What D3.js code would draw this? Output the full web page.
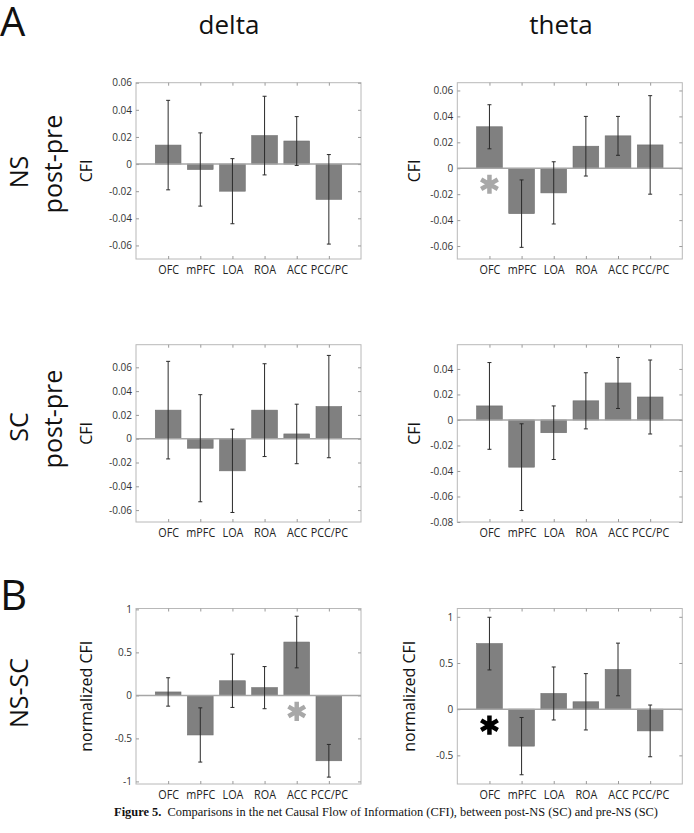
<!DOCTYPE html>
<html>
<head>
<meta charset="utf-8">
<script src="https://cdn.jsdelivr.net/npm/d3@7"></script>
<style>
  body { margin: 0; background: #fff; }
  svg { display: block; }
</style>
</head>
<body>
<div id="chart"></div>
<script>
// Brain regions (x categories)
var regions = ["OFC", "mPFC", "LOA", "ROA", "ACC", "PCC/PC"];

// NS post-pre
var deltaNS    = [0.014, -0.004, -0.020, 0.021, 0.017, -0.026];
var deltaNSErr = [0.033, 0.027, 0.024, 0.029, 0.018, 0.033];
var thetaNS    = [0.032, -0.035, -0.019, 0.017, 0.025, 0.018];
var thetaNSErr = [0.017, 0.026, 0.024, 0.023, 0.015, 0.038];

// SC post-pre
var deltaSC    = [0.024, -0.008, -0.027, 0.024, 0.004, 0.027];
var deltaSCErr = [0.041, 0.045, 0.035, 0.039, 0.025, 0.043];
var thetaSC    = [0.011, -0.037, -0.010, 0.015, 0.029, 0.018];
var thetaSCErr = [0.034, 0.034, 0.021, 0.022, 0.020, 0.029];

// NS-SC (normalized)
var deltaDiff    = [0.04, -0.46, 0.17, 0.09, 0.62, -0.76];
var deltaDiffErr = [0.165, 0.315, 0.31, 0.245, 0.30, 0.19];
var thetaDiff    = [0.71, -0.40, 0.17, 0.08, 0.43, -0.235];
var thetaDiffErr = [0.285, 0.31, 0.287, 0.305, 0.285, 0.28];

// Y tick labels
var ticksCFI    = [-0.06, -0.04, -0.02, 0, 0.02, 0.04, 0.06];
var ticksCFI2   = [-0.08, -0.06, -0.04, -0.02, 0, 0.02, 0.04];
var ticksNorm   = [-1, -0.5, 0, 0.5, 1];
var ticksNorm2  = [-0.5, 0, 0.5, 1];

// Significance marks: panel, region, colour
var stars = [
	{panel: "thetaNS", region: "OFC", color: "#a8a8a8"},
	{panel: "deltaDiff", region: "ACC", color: "#a8a8a8"},
	{panel: "thetaDiff", region: "OFC", color: "#000000"}
];

//---------------------------------------Layout---------------------------------------
var page = {width: 694, height: 833};
var cols = [136, 457.3];
var plotWidth = 225;
var rows = [{top: 82.7, bottom: 259}, {top: 344.7, bottom: 522}, {top: 608.5, bottom: 784}];
var sans = "'Open Sans', 'DejaVu Sans', sans-serif";

var panels = [
	{id: "deltaNS", col: 0, row: 0, values: deltaNS, errors: deltaNSErr, domain: [-0.07, 0.06], ticks: ticksCFI, label: "CFI", labelX: 92},
	{id: "thetaNS", col: 1, row: 0, values: thetaNS, errors: thetaNSErr, domain: [-0.07, 0.066], ticks: ticksCFI, label: "CFI", labelX: 420},
	{id: "deltaSC", col: 0, row: 1, values: deltaSC, errors: deltaSCErr, domain: [-0.07, 0.079], ticks: ticksCFI, label: "CFI", labelX: 92},
	{id: "thetaSC", col: 1, row: 1, values: thetaSC, errors: thetaSCErr, domain: [-0.08, 0.059], ticks: ticksCFI2, label: "CFI", labelX: 420},
	{id: "deltaDiff", col: 0, row: 2, values: deltaDiff, errors: deltaDiffErr, domain: [-1.03, 1.01], ticks: ticksNorm, label: "normalized CFI", labelX: 92},
	{id: "thetaDiff", col: 1, row: 2, values: thetaDiff, errors: thetaDiffErr, domain: [-0.81, 1.09], ticks: ticksNorm2, label: "normalized CFI", labelX: 415}
];

var svg = d3.select("#chart")
	.append("svg")
		.attr("width", page.width)
		.attr("height", page.height)
		.attr("font-family", sans);

//--------------------------------------Panel Function--------------------------------------
function tickFormat(d) {
	return String(+d.toFixed(2));
}

function draw_panel(p) {
	var left = cols[p.col];
	var right = left + plotWidth;
	var top = rows[p.row].top;
	var bottom = rows[p.row].bottom;

	var x = d3.scaleBand()
		.domain(regions)
		.range([left, right])
		.paddingInner(0.2)
		.paddingOuter(0.6);

	var y = d3.scaleLinear()
		.domain(p.domain)
		.range([bottom, top]);

	var g = svg.append("g").attr("id", p.id);

	// box
	g.append("rect")
		.attr("x", left)
		.attr("y", top)
		.attr("width", right - left)
		.attr("height", bottom - top)
		.attr("fill", "none")
		.attr("stroke", "#b8b8b8")
		.attr("stroke-width", 1);

	// y axis left (labels + inward ticks), right inward ticks
	var yLeft = g.append("g")
		.attr("transform", "translate(" + left + ",0)")
		.call(d3.axisLeft(y).tickValues(p.ticks).tickFormat(tickFormat).tickSizeInner(-3).tickSizeOuter(0).tickPadding(4));
	var yRight = g.append("g")
		.attr("transform", "translate(" + right + ",0)")
		.call(d3.axisRight(y).tickValues(p.ticks).tickFormat("").tickSizeInner(-3).tickSizeOuter(0));

	// x axis bottom (labels) and top ticks
	var centered = d3.scalePoint().domain(regions).range([x(regions[0]) + x.bandwidth() / 2, x(regions[5]) + x.bandwidth() / 2]);
	var xBottom = g.append("g")
		.attr("transform", "translate(0," + bottom + ")")
		.call(d3.axisBottom(centered).tickSizeInner(-3).tickSizeOuter(0).tickPadding(5));
	var xTop = g.append("g")
		.attr("transform", "translate(0," + top + ")")
		.call(d3.axisTop(centered).tickFormat("").tickSizeInner(-3).tickSizeOuter(0));

	[yLeft, yRight, xBottom, xTop].forEach(function(a) {
		a.select(".domain").remove();
		a.selectAll(".tick line").attr("stroke", "#9a9a9a");
	});
	yLeft.selectAll("text")
		.attr("font-family", sans)
		.attr("font-size", 10)
		.attr("fill", "#333");
	// narrow the region names a little, like the original condensed face
	xBottom.selectAll("text")
		.attr("font-family", sans)
		.attr("font-size", 13.5)
		.attr("transform", "scale(0.8,1)")
		.attr("fill", "#222");

	// bars
	g.selectAll(".bar")
		.data(p.values)
		.enter().append("rect")
			.attr("class", "bar")
			.attr("x", function(d, i) { return x(regions[i]); })
			.attr("width", x.bandwidth())
			.attr("y", function(d) { return y(Math.max(0, d)); })
			.attr("height", function(d) { return Math.abs(y(d) - y(0)); })
			.attr("fill", "#808080")
			.attr("stroke", "#6e6e6e")
			.attr("stroke-width", 0.6);

	// zero line
	g.append("line")
		.attr("x1", left)
		.attr("x2", right)
		.attr("y1", y(0))
		.attr("y2", y(0))
		.attr("stroke", "#a6a6a6")
		.attr("stroke-width", 1.5);

	// error bars
	var err = g.selectAll(".err")
		.data(p.values)
		.enter().append("g")
			.attr("class", "err")
			.attr("stroke", "#2a2a2a")
			.attr("stroke-width", 1);
	err.append("line")
		.attr("x1", function(d, i) { return centered(regions[i]); })
		.attr("x2", function(d, i) { return centered(regions[i]); })
		.attr("y1", function(d, i) { return y(d + p.errors[i]); })
		.attr("y2", function(d, i) { return y(d - p.errors[i]); });
	[1, -1].forEach(function(s) {
		err.append("line")
			.attr("x1", function(d, i) { return centered(regions[i]) - 2; })
			.attr("x2", function(d, i) { return centered(regions[i]) + 2; })
			.attr("y1", function(d, i) { return y(d + s * p.errors[i]); })
			.attr("y2", function(d, i) { return y(d + s * p.errors[i]); });
	});

	// y label
	g.append("text")
		.attr("transform", "translate(" + p.labelX + "," + ((top + bottom) / 2) + ") rotate(-90)")
		.attr("text-anchor", "middle")
		.attr("font-size", 16)
		.attr("fill", "#111")
		.text(p.label);

	// significance stars
	stars.filter(function(s) { return s.panel === p.id; }).forEach(function(s) {
		g.append("path")
			.attr("d", d3.symbol(d3.symbolAsterisk, 260)())
			.attr("transform", "translate(" + centered(s.region) + "," + (y(0) + 16) + ")")
			.attr("fill", "none")
			.attr("stroke", s.color)
			.attr("stroke-width", 4.5);
	});
}

panels.forEach(draw_panel);

//--------------------------------------Figure Labels--------------------------------------
function add_text(x, y, str, size, rotate, weight) {
	return svg.append("text")
		.attr("transform", "translate(" + x + "," + y + ")" + (rotate ? " rotate(-90)" : ""))
		.attr("text-anchor", rotate ? "middle" : "start")
		.attr("font-size", size)
		.attr("font-weight", weight || "normal")
		.attr("fill", "#111")
		.text(str);
}

add_text(0, 36, "A", 40);
add_text(0, 610, "B", 42);
add_text(229, 34, "delta", 26).attr("text-anchor", "middle");
add_text(561, 34, "theta", 26).attr("text-anchor", "middle");

add_text(28, 172, "NS", 25, true);
add_text(62, 164, "post-pre", 25, true);
add_text(28, 427, "SC", 25, true);
add_text(62, 419, "post-pre", 25, true);
add_text(28, 693, "NS-SC", 25, true);

// caption
var caption = svg.append("text")
	.attr("x", 386)
	.attr("y", 816)
	.attr("text-anchor", "middle")
	.attr("font-family", "'Liberation Serif', 'DejaVu Serif', serif")
	.attr("font-size", 12.4)
	.attr("fill", "#111");
caption.append("tspan").attr("font-weight", "bold").text("Figure 5.");
caption.append("tspan").text("\u00a0 Comparisons in the net Causal Flow of Information (CFI), between post-NS (SC) and pre-NS (SC)");
</script>
</body>
</html>
